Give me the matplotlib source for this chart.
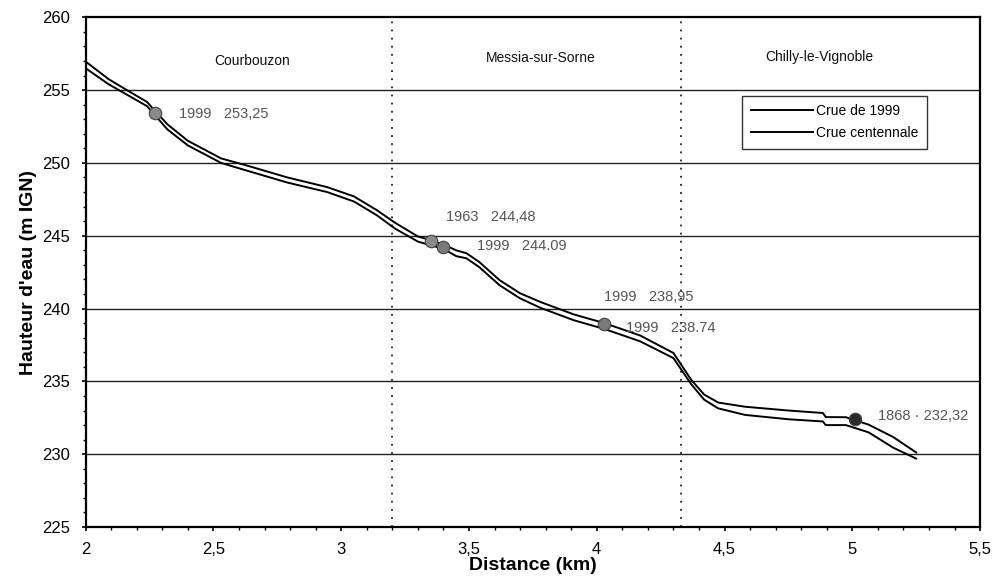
import matplotlib
matplotlib.use("Agg")
from matplotlib import pyplot as plt
from matplotlib.ticker import MultipleLocator, FuncFormatter

plt.rcParams['font.family'] = ['Liberation Sans', 'DejaVu Sans']

# lignes d'eau (km, m IGN)
dist_haut = [2.00, 2.09, 2.17, 2.24, 2.27, 2.32, 2.40, 2.53, 2.635, 2.79, 2.945, 3.05, 3.14,
             3.21, 3.30, 3.35, 3.40, 3.45, 3.49, 3.54, 3.62, 3.70, 3.78, 3.91, 4.03, 4.17,
             4.30, 4.37, 4.42, 4.475, 4.58, 4.75, 4.885, 4.896, 4.975, 5.064, 5.16, 5.25]
crue_centennale = [256.96, 255.75, 254.91, 254.19, 253.6, 252.65, 251.52, 250.31, 249.80, 249.0,
                   248.34, 247.7, 246.75, 245.9, 244.95, 244.7, 244.4, 244.0, 243.8, 243.2,
                   241.95, 241.05, 240.45, 239.6, 239.0, 238.15, 236.95, 235.1, 234.1, 233.55,
                   233.26, 233.0, 232.83, 232.55, 232.54, 232.03, 231.18, 230.12]
crue_1999 = [256.5, 255.4, 254.6, 253.9, 253.3, 252.3, 251.2, 250.0, 249.45, 248.65,
             248.0, 247.35, 246.4, 245.5, 244.6, 244.35, 244.1, 243.6, 243.45, 242.85,
             241.6, 240.7, 240.05, 239.2, 238.6, 237.75, 236.6, 234.8, 233.75, 233.15,
             232.7, 232.4, 232.25, 232.0, 232.0, 231.5, 230.45, 229.7]

# repères de crues
rep_x = [2.27, 3.35, 3.40, 4.03, 5.01]
rep_y = [253.4, 244.65, 244.25, 238.95, 232.4]
rep_coul = ['#8a8a8a', '#8a8a8a', '#7a7a7a', '#7a7a7a', '#2a2a2a']
rep_txt = ['1999   253,25', '1963   244,48', '1999   244.09', '1999   238,95', '1999   238.74', '1868 · 232,32']
txt_x = [2.365, 3.41, 3.53, 4.03, 4.115, 5.10]
txt_y = [253.35, 246.3, 244.3, 240.8, 238.7, 232.6]

communes = ['Courbouzon', 'Messia-sur-Sorne', 'Chilly-le-Vignoble']
communes_x = [2.65, 3.78, 4.87]
communes_y = [257.0, 257.2, 257.3]
limites = [3.2, 4.33]


def virgule(v, pos):
    s = ('%g' % v)
    return s.replace('.', ',')


def main():
    fig = plt.figure(figsize=(9.96, 5.76), dpi=100)
    ax = fig.add_axes([0.086, 0.085, 0.898, 0.885])

    ax.set_xlim(2, 5.5)
    ax.set_ylim(225, 260)

    # grille horizontale
    for y in range(230, 260, 5):
        ax.axhline(y, color='#222222', lw=1.0, zorder=1)
    # limites communales
    for x in limites:
        ax.axvline(x, color='#222222', lw=1.3, ls=(0, (1, 3.5)), zorder=1)

    ax.plot(dist_haut, crue_1999, color='black', lw=1.4, label='Crue de 1999', zorder=3)
    ax.plot(dist_haut, crue_centennale, color='black', lw=1.4, label='Crue centennale', zorder=3)

    for x, y, c in zip(rep_x, rep_y, rep_coul):
        ax.plot(x, y, 'o', ms=9, color=c, mec='#444444', mew=0.8, zorder=4)
    for x, y, t in zip(txt_x, txt_y, rep_txt):
        ax.text(x, y, t, fontsize=10.5, color='#555555', va='center', ha='left', zorder=5)

    for x, y, t in zip(communes_x, communes_y, communes):
        ax.text(x, y, t, fontsize=10, color='#111111', ha='center', va='center')

    ax.xaxis.set_major_locator(MultipleLocator(0.5))
    ax.xaxis.set_minor_locator(MultipleLocator(0.1))
    ax.yaxis.set_major_locator(MultipleLocator(5))
    ax.yaxis.set_minor_locator(MultipleLocator(1))
    ax.xaxis.set_major_formatter(FuncFormatter(virgule))
    ax.tick_params(which='major', direction='out', length=3, width=1.2, labelsize=12, pad=8)
    ax.tick_params(which='minor', direction='out', length=2.5, width=1.0)
    ax.tick_params(axis='y', pad=8)

    for s in ax.spines.values():
        s.set_linewidth(1.6)
        s.set_color('black')

    ax.set_xlabel("Distance (km)", fontsize=14, fontweight='bold', labelpad=0)
    ax.set_ylabel("Hauteur d'eau (m IGN)", fontsize=14, fontweight='bold', labelpad=4)

    leg = ax.legend(loc='upper right', bbox_to_anchor=(0.948, 0.86), fontsize=10,
                    frameon=True, fancybox=False, edgecolor='black', handlelength=4.5,
                    handletextpad=0.2, borderpad=0.6, labelspacing=0.6)
    leg.get_frame().set_linewidth(1.0)
    leg.set_zorder(6)

    plt.savefig("out.png", dpi=100)


if __name__ == '__main__':
    main()
